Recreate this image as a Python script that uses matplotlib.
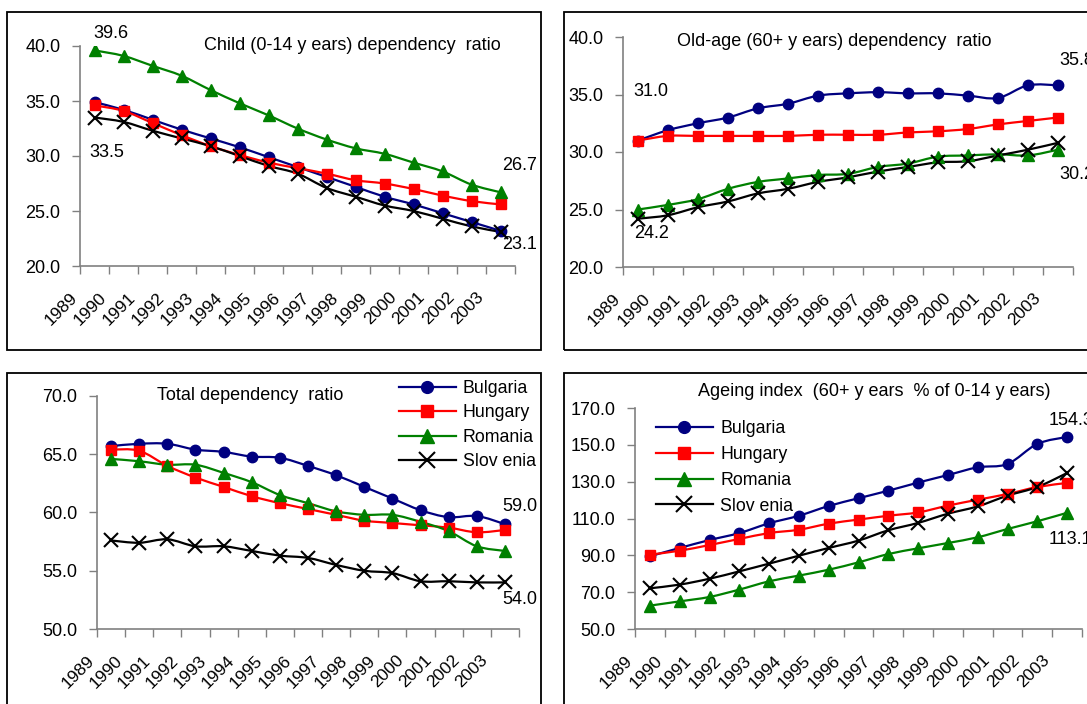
import matplotlib
matplotlib.use("Agg")
import matplotlib.pyplot as plt
from matplotlib.path import Path
from matplotlib.patches import PathPatch, Rectangle
from matplotlib.lines import Line2D

plt.rcParams['font.family'] = ['Liberation Sans', 'DejaVu Sans']

YEARS = [str(y) for y in range(1989, 2004)]
COUNTRIES = ["Bulgaria", "Hungary", "Romania", "Slov enia"]

# Child (0-14 years) dependency ratio
child_bg = [34.9, 34.2, 33.3, 32.4, 31.6, 30.8, 29.9, 29.0, 28.1, 27.2, 26.3, 25.6, 24.8, 24.0, 23.2]
child_hu = [34.6, 34.1, 33.0, 31.9, 30.9, 30.1, 29.4, 28.9, 28.4, 27.8, 27.5, 27.0, 26.4, 25.9, 25.6]
child_ro = [39.6, 39.1, 38.2, 37.3, 36.0, 34.8, 33.7, 32.5, 31.5, 30.7, 30.2, 29.4, 28.6, 27.4, 26.7]
child_si = [33.5, 33.1, 32.3, 31.6, 30.9, 30.0, 29.1, 28.4, 27.1, 26.3, 25.5, 25.0, 24.3, 23.6, 23.1]

# Old-age (60+ years) dependency ratio
old_bg = [31.0, 31.9, 32.5, 33.0, 33.8, 34.2, 34.9, 35.1, 35.2, 35.1, 35.1, 34.9, 34.7, 35.8, 35.8]
old_hu = [31.0, 31.4, 31.4, 31.4, 31.4, 31.4, 31.5, 31.5, 31.5, 31.7, 31.8, 32.0, 32.4, 32.7, 33.0]
old_ro = [25.0, 25.4, 25.9, 26.8, 27.4, 27.7, 28.0, 28.1, 28.7, 29.0, 29.6, 29.7, 29.8, 29.7, 30.2]
old_si = [24.2, 24.5, 25.2, 25.7, 26.4, 26.8, 27.4, 27.8, 28.3, 28.7, 29.1, 29.2, 29.7, 30.2, 30.8]

# Total dependency ratio
total_bg = [65.7, 65.9, 65.9, 65.4, 65.2, 64.8, 64.7, 64.0, 63.2, 62.2, 61.2, 60.2, 59.6, 59.7, 59.0]
total_hu = [65.4, 65.3, 64.0, 63.0, 62.2, 61.4, 60.8, 60.3, 59.8, 59.3, 59.1, 58.9, 58.7, 58.3, 58.5]
total_ro = [64.6, 64.4, 64.1, 64.1, 63.4, 62.6, 61.5, 60.8, 60.1, 59.8, 59.8, 59.2, 58.4, 57.1, 56.7]
total_si = [57.6, 57.4, 57.7, 57.1, 57.1, 56.7, 56.3, 56.1, 55.5, 55.0, 54.8, 54.1, 54.1, 54.0, 54.0]

# Ageing index (60+ years % of 0-14 years)
age_bg = [89.5, 94.0, 98.3, 102.1, 107.4, 111.5, 116.8, 121.0, 125.1, 129.5, 133.6, 137.8, 139.6, 150.5, 154.3]
age_hu = [90.4, 92.5, 95.6, 98.9, 102.1, 103.9, 107.2, 109.4, 111.5, 113.3, 117.0, 120.2, 123.3, 127.1, 129.3]
age_ro = [62.7, 65.0, 67.4, 71.4, 75.9, 79.0, 82.2, 86.2, 90.7, 93.8, 96.7, 99.8, 104.3, 108.5, 113.1]
age_si = [72.1, 74.1, 77.3, 81.3, 85.5, 89.8, 94.0, 98.0, 103.6, 107.6, 112.6, 116.6, 122.4, 127.1, 134.7]

STYLES = [
    dict(color="#000080", marker="o", ms=7.5, mew=1),
    dict(color="#FF0000", marker="s", ms=7, mew=1),
    dict(color="#008000", marker="^", ms=8.5, mew=1),
    dict(color="#000000", marker="x", ms=10, mew=1.5),
]
AXIS_GREY = "#808080"

W, H = 1087, 704
fig = plt.figure(figsize=(W / 100, H / 100), dpi=100)
fig.patch.set_facecolor("white")


def px_rect(x0, y0, x1, y1):
    # pixel box (top-left origin) -> figure fraction [l, b, w, h]
    return [x0 / W, 1 - y1 / H, (x1 - x0) / W, (y1 - y0) / H]


def smooth(ax, x, y, color):
    # Bezier curve through the points, like a smoothed spreadsheet line
    n = len(x)
    verts = [(x[0], y[0])]
    codes = [Path.MOVETO]
    for i in range(n - 1):
        a = max(i - 1, 0)
        d = min(i + 2, n - 1)
        c1 = (x[i] + (x[i + 1] - x[a]) / 6, y[i] + (y[i + 1] - y[a]) / 6)
        c2 = (x[i + 1] - (x[d] - x[i]) / 6, y[i + 1] - (y[d] - y[i]) / 6)
        verts += [c1, c2, (x[i + 1], y[i + 1])]
        codes += [Path.CURVE4] * 3
    ax.add_patch(PathPatch(Path(verts, codes), fill=False, edgecolor=color,
                           lw=1.6, zorder=3))


def panel(rect, series, ylim, yticks, title, title_xy, labels):
    ax = fig.add_axes(px_rect(*rect))
    xs = [i + 0.5 for i in range(len(YEARS))]
    for vals, st in zip(series, STYLES):
        smooth(ax, xs, vals, st["color"])
        ax.plot(xs, vals, ls="none", marker=st["marker"], ms=st["ms"],
                color=st["color"], mec=st["color"], mew=st["mew"], zorder=4)
    ax.set_xlim(0, len(YEARS))
    ax.set_ylim(*ylim)
    ax.set_yticks(yticks)
    ax.set_yticklabels([f"{t:.1f}" for t in yticks], fontsize=13)
    ax.set_xticks(range(len(YEARS) + 1))
    ax.set_xticklabels(YEARS + [""], rotation=45, ha="right", fontsize=12.5)
    ax.tick_params(axis="y", direction="out", length=6, width=1, pad=8,
                   color=AXIS_GREY)
    ax.tick_params(axis="x", direction="out", length=6, width=1, pad=11,
                   color=AXIS_GREY)
    for s in ["top", "right"]:
        ax.spines[s].set_visible(False)
    for s in ["left", "bottom"]:
        ax.spines[s].set_color(AXIS_GREY)
        ax.spines[s].set_linewidth(1.2)
    ax.patch.set_alpha(0)
    fig.text(title_xy[0] / W, 1 - title_xy[1] / H, title, ha="center",
             va="center", fontsize=13)
    for idx, pos, off in labels:
        v = series[idx][pos]
        ax.annotate(f"{v:.1f}", (xs[pos], v), xytext=off,
                    textcoords="offset points", ha="left", va="center",
                    fontsize=13, annotation_clip=False)
    return ax


def legend(ax, anchor, spacing):
    handles = [Line2D([], [], color=st["color"], marker=st["marker"],
                      ms=st["ms"] + 1, mew=st["mew"], lw=1.6) for st in STYLES]
    ax.legend(handles, COUNTRIES, loc="upper left",
              bbox_to_anchor=(anchor[0] / W, 1 - anchor[1] / H),
              bbox_transform=fig.transFigure, frameon=False, fontsize=12.8,
              handlelength=3.2, handletextpad=0.4, borderpad=0,
              borderaxespad=0, labelspacing=spacing)


# panel frames
for x0, y0, x1, y1 in [(7, 12, 541, 350), (564, 12, 1100, 350),
                       (7, 373, 541, 720), (564, 373, 1100, 720)]:
    fig.patches.append(Rectangle((x0 / W, 1 - y1 / H), (x1 - x0) / W, (y1 - y0) / H,
                                 transform=fig.transFigure, fill=False,
                                 edgecolor="black", lw=1.3))

panel((80, 46, 515, 266), [child_bg, child_hu, child_ro, child_si],
      (20, 40), [20, 25, 30, 35, 40],
      "Child (0-14 y ears) dependency  ratio", (352, 45),
      [(2, 0, (-1, 12)), (3, 0, (-4, -25)), (2, 14, (1.5, 19)), (3, 14, (1.5, -9))])

panel((623, 37, 1073, 267), [old_bg, old_hu, old_ro, old_si],
      (20, 40), [20, 25, 30, 35, 40],
      "Old-age (60+ y ears) dependency  ratio", (834, 42),
      [(0, 0, (-3.6, 35)), (0, 14, (0.7, 18)), (2, 14, (0.7, -18)), (3, 0, (-3, -11))])

ax3 = panel((97, 396, 519, 629), [total_bg, total_hu, total_ro, total_si],
            (50, 70), [50, 55, 60, 65, 70],
            "Total dependency  ratio", (250, 396),
            [(0, 14, (-2, 12.5)), (3, 14, (-2, -12.5))])
legend(ax3, (399, 380), 0.42)

ax4 = panel((635, 408, 1082, 629), [age_bg, age_hu, age_ro, age_si],
            (50, 170), [50, 70, 90, 110, 130, 150, 170],
            "Ageing index  (60+ y ears  % of 0-14 y ears)", (874, 392),
            [(0, 14, (-13, 12)), (2, 14, (-13, -19))])
legend(ax4, (656, 420), 0.5)

fig.savefig("out.png", dpi=100, facecolor="white")
